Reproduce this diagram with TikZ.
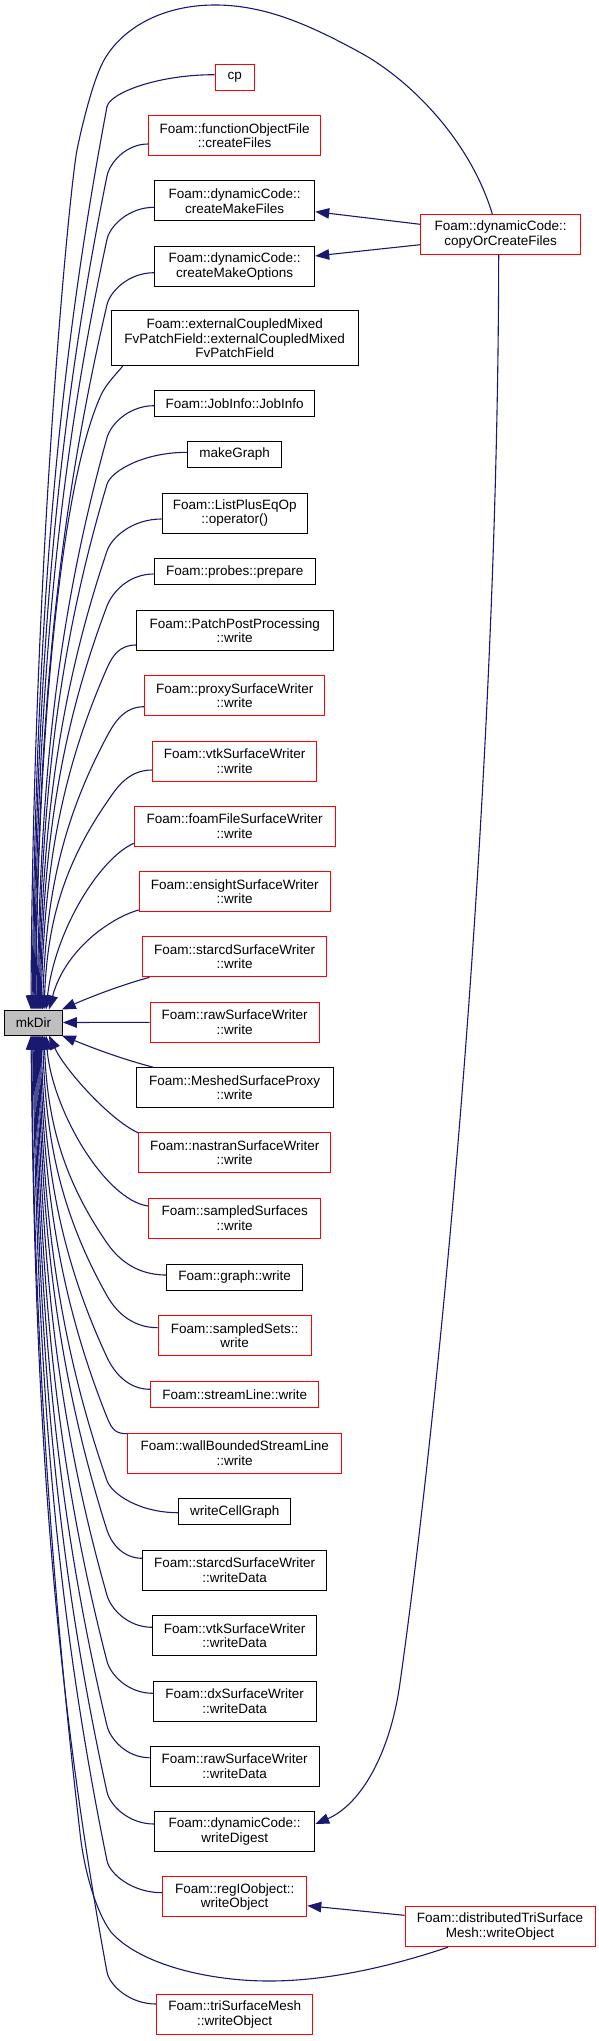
\documentclass[tikz,border=0pt]{standalone}
\usepackage{fontspec}
\setmainfont{Liberation Sans}
\usetikzlibrary{arrows.meta,calc}
\definecolor{edgeblue}{HTML}{191970}
\definecolor{nodered}{HTML}{FF0000}
\definecolor{mkgray}{HTML}{BFBFBF}
\tikzset{
 fn/.style={draw=black, line width=1pt, fill=white, align=center, inner sep=1pt, font=\fontsize{13.5}{14.5}\selectfont, text=black},
 fnred/.style={fn, draw=nodered},
 hA/.style={minimum height=26pt},
 hB/.style={minimum height=40pt},
 hC/.style={minimum height=54.7pt},
 calledge/.style={draw=edgeblue, line width=1.1pt, -{Triangle[length=14pt,width=10.5pt]}},
}
\newcommand\fanup[3]{%
  \draw[calledge] let \p1=([yshift=#2pt]#1.west), \p2=(mkDir.north),
    \n1={min(0.8*(\x1-107pt),32pt)},
    \n2={\y1-\n1-\y2},
    \n3={2.27*(107-#3)/\n2}
  in (\p1) .. controls ({\x1-0.55*(\x1-107pt)},\y1) and ({107pt+13pt*\n3},{\y1-\n1+13pt}) .. (107pt,{\y1-\n1})
    .. controls ({107pt-0.75*(107pt-#3pt)},{\y1-\n1-0.33*\n2}) and ({#3pt+0.05*(107pt-#3pt)},{\y2+0.38*\n2}) .. ({#3pt},\y2);%
}
\newcommand\fandown[3]{%
  \draw[calledge] let \p1=([yshift=#2pt]#1.west), \p2=(mkDir.south),
    \n1={min(0.8*(\x1-107pt),32pt)},
    \n2={\y2-\y1-\n1},
    \n3={2.27*(107-#3)/\n2}
  in (\p1) .. controls ({\x1-0.55*(\x1-107pt)},\y1) and ({107pt+13pt*\n3},{\y1+\n1-13pt}) .. (107pt,{\y1+\n1})
    .. controls ({107pt-0.75*(107pt-#3pt)},{\y1+\n1+0.33*\n2}) and ({#3pt+0.05*(107pt-#3pt)},{\y2-0.38*\n2}) .. ({#3pt},\y2);%
}
\begin{document}
\begin{tikzpicture}[x=1pt,y=-1pt]
\useasboundingbox (0,0) rectangle (599,2041);
% nodes
\node[fn, fill=mkgray, minimum width=57.6pt, minimum height=25pt] (mkDir) at (33.5,1022.5) {mkDir};
\node[fnred, hA, minimum width=39pt] (cp) at (234.7,77.2) {cp};
\node[fnred, hB, minimum width=172pt] (funcObj) at (234.7,135.7) {Foam::functionObjectFile\\::createFiles};
\node[fn, hB, minimum width=160pt] (cmf) at (234.7,201) {Foam::dynamicCode::\\createMakeFiles};
\node[fn, hB, minimum width=160pt] (cmo) at (234.7,266.3) {Foam::dynamicCode::\\createMakeOptions};
\node[fn, hC, minimum width=247pt] (external) at (234.7,338.3) {Foam::externalCoupledMixed\\FvPatchField::externalCoupledMixed\\FvPatchField};
\node[fn, hA, minimum width=160pt] (jobinfo) at (234.7,403.7) {Foam::JobInfo::JobInfo};
\node[fn, hA, minimum width=94pt] (makegraph) at (234.7,454.5) {makeGraph};
\node[fn, hB, minimum width=145pt] (listplus) at (234.7,513.2) {Foam::ListPlusEqOp\\::operator()};
\node[fn, hA, minimum width=161pt] (probes) at (234.7,571.7) {Foam::probes::prepare};
\node[fn, hB, minimum width=196.6pt] (patch) at (234.7,630.5) {Foam::PatchPostProcessing\\::write};
\node[fnred, hB, minimum width=180.4pt] (proxy) at (234.7,695.7) {Foam::proxySurfaceWriter\\::write};
\node[fnred, hB, minimum width=164pt] (vtkw) at (234.7,761) {Foam::vtkSurfaceWriter\\::write};
\node[fnred, hB, minimum width=200.8pt] (foamfile) at (234.7,826.3) {Foam::foamFileSurfaceWriter\\::write};
\node[fnred, hB, minimum width=191pt] (ensight) at (234.7,891.7) {Foam::ensightSurfaceWriter\\::write};
\node[fnred, hB, minimum width=184pt] (starcdw) at (234.7,956.8) {Foam::starcdSurfaceWriter\\::write};
\node[fnred, hB, minimum width=169pt] (raww) at (234.7,1022.3) {Foam::rawSurfaceWriter\\::write};
\node[fn, hB, minimum width=196.6pt] (meshed) at (234.7,1087.7) {Foam::MeshedSurfaceProxy\\::write};
\node[fnred, hB, minimum width=192pt] (nastran) at (234.7,1152.8) {Foam::nastranSurfaceWriter\\::write};
\node[fnred, hB, minimum width=172.3pt] (sampledsurf) at (234.7,1218.3) {Foam::sampledSurfaces\\::write};
\node[fn, hA, minimum width=136pt] (graphw) at (234.7,1277.2) {Foam::graph::write};
\node[fnred, hB, minimum width=153pt] (sampledsets) at (234.7,1335.7) {Foam::sampledSets::\\write};
\node[fnred, hA, minimum width=168pt] (streamline) at (234.7,1394.5) {Foam::streamLine::write};
\node[fnred, hB, minimum width=213.5pt] (wallbounded) at (234.7,1453.2) {Foam::wallBoundedStreamLine\\::write};
\node[fn, hA, minimum width=112pt] (writecellgraph) at (234.7,1511.7) {writeCellGraph};
\node[fn, hB, minimum width=184pt] (starcdd) at (234.7,1570.3) {Foam::starcdSurfaceWriter\\::writeData};
\node[fn, hB, minimum width=164pt] (vtkd) at (234.7,1635.7) {Foam::vtkSurfaceWriter\\::writeData};
\node[fn, hB, minimum width=162.7pt] (dxd) at (234.7,1701) {Foam::dxSurfaceWriter\\::writeData};
\node[fn, hB, minimum width=169pt] (rawd) at (234.7,1766.3) {Foam::rawSurfaceWriter\\::writeData};
\node[fn, hB, minimum width=160pt] (writedigest) at (234.7,1831.7) {Foam::dynamicCode::\\writeDigest};
\node[fnred, hB, minimum width=144.2pt] (regio) at (234.7,1896.8) {Foam::regIOobject::\\writeObject};
\node[fnred, hB, minimum width=156pt] (trisurf) at (234.7,2014.3) {Foam::triSurfaceMesh\\::writeObject};
\node[fnred, hB, minimum width=160pt] (copyor) at (500.7,234.5) {Foam::dynamicCode::\\copyOrCreateFiles};
\node[fnred, hB, minimum width=190pt] (distributed) at (500,1926.7) {Foam::distributedTriSurface\\Mesh::writeObject};
% edges into mkDir from above
\draw[calledge] ([xshift=-8.4pt]copyor.north) .. controls (470,140) and (410,80) .. (361,53)
  .. controls (310,25) and (265,5) .. (215,5) .. controls (160,5) and (120,30) .. (103,62)
  .. controls (93,81) and (82,125) .. (77,150) .. controls (70,185) and (33,560) .. ([xshift=-2.5pt]mkDir.north);
\fanup{cp}{2.5}{32}
\fanup{funcObj}{-8.3}{33}
\fanup{cmf}{-6.3}{34}
\fanup{cmo}{-6.4}{35}
\draw[calledge] ([xshift=12pt]external.south west) .. controls (118,372) and (106,384) .. (101,395)
  .. controls (56,495) and (37,776) .. ([xshift=2.5pt]mkDir.north);
\fanup{jobinfo}{-2}{37}
\fanup{makegraph}{2.2}{38}
\fanup{listplus}{-5.8}{39}
\fanup{probes}{-2.3}{40}
\fanup{patch}{-14.5}{41}
\fanup{proxy}{-11}{42.5}
\fanup{vtkw}{-9}{44}
\draw[calledge] ([yshift=-17pt]foamfile.west) .. controls (100,858) and (55,930) .. ([xshift=12.5pt]mkDir.north);
\draw[calledge] ([yshift=-18.3pt]ensight.west) .. controls (110,918) and (65,950) .. ([xshift=15.5pt]mkDir.north);
\draw[calledge] ([xshift=7.3pt]starcdw.south west) .. controls (118,986) and (88,998) .. ([xshift=-1pt]mkDir.north east);
\draw[calledge] (raww.west) -- (mkDir.east);
% edges into mkDir from below
\draw[calledge] ([xshift=17.3pt]meshed.north west) .. controls (118,1058) and (88,1046) .. ([xshift=-1pt]mkDir.south east);
\draw[calledge] ([yshift=-0.5pt]nastran.north west) .. controls (110,1120) and (65,1070) .. ([xshift=15.5pt]mkDir.south);
\draw[calledge] ([yshift=12.3pt]sampledsurf.west) .. controls (105,1200) and (52,1110) .. ([xshift=12.5pt]mkDir.south);
\fandown{graphw}{2.2}{44}
\fandown{sampledsets}{8}{42.5}
\fandown{streamline}{5.2}{41}
\fandown{wallbounded}{19.5}{40}
\fandown{writecellgraph}{-1}{39}
\fandown{starcdd}{12}{38}
\fandown{vtkd}{8.4}{37}
\fandown{dxd}{7.7}{36}
\fandown{rawd}{8.6}{35}
\fandown{writedigest}{7.7}{34}
\fandown{regio}{4.1}{33}
\draw[calledge] ([xshift=-52pt]distributed.south) .. controls (380,1970) and (320,1981) .. (269,1981)
  .. controls (210,1981) and (140,1965) .. (111,1932) .. controls (96,1912) and (84,1870) .. (80,1833)
  .. controls (76,1795) and (33,1450) .. ([xshift=-1.5pt]mkDir.south);
\fandown{trisurf}{10.3}{31}
% other edges
\draw[calledge] ([yshift=10.2pt]copyor.west) -- ([yshift=-10.7pt]cmf.east);
\draw[calledge] ([yshift=-10.2pt]copyor.west) -- ([yshift=10.3pt]cmo.east);
\draw[calledge] ([xshift=-2pt]copyor.south) .. controls (498,800) and (440,1400) .. (400,1683)
  .. controls (390,1755) and (360,1805) .. ([yshift=7.7pt]writedigest.east);
\draw[calledge] ([yshift=11.4pt]distributed.west) -- ([yshift=-8.9pt]regio.east);
\end{tikzpicture}
\end{document}
